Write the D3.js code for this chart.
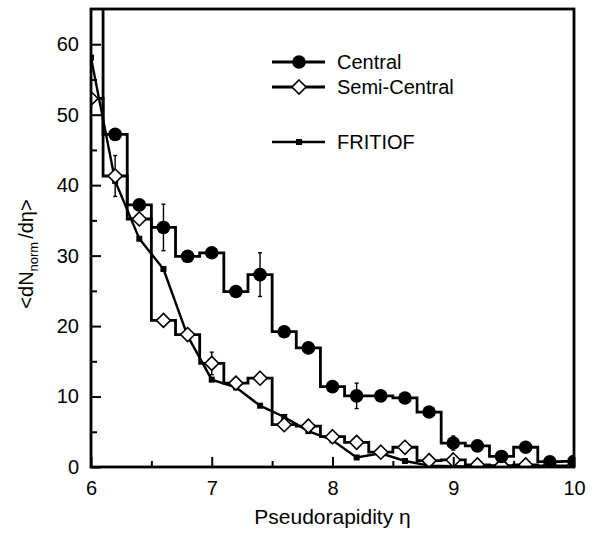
<!DOCTYPE html>
<html>
<head>
<meta charset="utf-8">
<script src="https://cdn.jsdelivr.net/npm/d3@7/dist/d3.min.js"></script>
<style>
  html, body { margin: 0; padding: 0; background: #fff; }
  svg { display: block; font-family: "Liberation Sans", Arial, Helvetica, sans-serif; }
</style>
</head>
<body>
<svg id="chart" width="602" height="533"></svg>
<script>
// ---- data ----
const eta = [6.0, 6.2, 6.4, 6.6, 6.8, 7.0, 7.2, 7.4, 7.6, 7.8, 8.0, 8.2, 8.4, 8.6, 8.8, 9.0, 9.2, 9.4, 9.6, 9.8, 10.0];
const central     = [75, 47.2, 37.2, 34.0, 29.9, 30.4, 24.9, 27.3, 19.2, 16.9, 11.4, 10.1, 10.1, 9.8, 7.8, 3.4, 3.0, 1.5, 2.8, 0.75, 0.8];
const centralErr  = [0, 0, 0, 3.3, 0, 0, 0, 3.1, 0, 0, 0, 1.8, 0, 0, 0, 1.0, 0, 0, 0, 0, 0];
const semiCentral = [52.3, 41.3, 35.2, 20.8, 18.8, 14.7, 11.9, 12.6, 6.0, 5.8, 4.3, 3.5, 2.1, 2.8, 0.9, 1.0, 0.3, 0.2, 0.3, 0.15, 0.15];
const semiErr     = [0, 2.9, 0, 0, 0, 1.6, 0, 0, 0, 0.8, 0, 0, 0, 0, 0, 0.6, 0, 0, 0, 0, 0];
const fritiof     = [58.1, 40.6, 32.4, 28.1, 18.6, 12.4, 11.3, 8.7, 7.1, 5.1, 3.8, 1.35, 1.95, 0.85, 0.2, 0.1, 0.05, 0.05, 0.05, 0.05, 0.05];
const xTicks = [6, 7, 8, 9, 10];
const xMinor = [6.5, 7.5, 8.5, 9.5];
const yTicks = [0, 10, 20, 30, 40, 50, 60];
const yMinor = [5, 15, 25, 35, 45, 55];
const legendItems = ["Central", "Semi-Central", "FRITIOF"];

// ---- layout ----
const W = 602, H = 533;
const m = {left: 91, right: 28, top: 9, bottom: 66};
const svg = d3.select("#chart");
const x = d3.scaleLinear().domain([6, 10]).range([m.left, W - m.right]);
const y = d3.scaleLinear().domain([0, 65]).range([H - m.bottom, m.top]);

svg.append("defs").append("clipPath").attr("id", "clip")
  .append("rect").attr("x", x(6)).attr("y", y(65))
  .attr("width", x(10) - x(6)).attr("height", y(0) - y(65));

const plot = svg.append("g").attr("clip-path", "url(#clip)");

const stepLine = d3.line().curve(d3.curveStep).x(d => x(d[0])).y(d => y(d[1]));
const straight = d3.line().x(d => x(d[0])).y(d => y(d[1]));

const cData = eta.map((e, i) => [e, central[i], centralErr[i]]);
const sData = eta.map((e, i) => [e, semiCentral[i], semiErr[i]]);
const fData = eta.map((e, i) => [e, fritiof[i]]);

// step histograms
plot.append("path").datum(sData).attr("d", stepLine)
  .attr("fill", "none").attr("stroke", "#000").attr("stroke-width", 2.8).attr("stroke-linejoin", "miter");
plot.append("path").datum(cData).attr("d", stepLine)
  .attr("fill", "none").attr("stroke", "#000").attr("stroke-width", 2.8).attr("stroke-linejoin", "miter");
// FRITIOF line
plot.append("path").datum(fData).attr("d", straight)
  .attr("fill", "none").attr("stroke", "#000").attr("stroke-width", 2.4);

// error bars
function errBars(data) {
  const g = plot.append("g").attr("stroke", "#000").attr("stroke-width", 1.4);
  data.filter(d => d[2] > 0).forEach(d => {
    g.append("line").attr("x1", x(d[0])).attr("x2", x(d[0]))
      .attr("y1", y(d[1] - d[2])).attr("y2", y(d[1] + d[2]));
    [d[1] - d[2], d[1] + d[2]].forEach(v => {
      g.append("line").attr("x1", x(d[0]) - 2).attr("x2", x(d[0]) + 2)
        .attr("y1", y(v)).attr("y2", y(v));
    });
  });
}
errBars(cData);
errBars(sData);

// markers
const diamond = r => `M0,${-r}L${r},0L0,${r}L${-r},0Z`;
plot.append("g").selectAll("rect").data(fData).join("rect")
  .attr("x", d => x(d[0]) - 3).attr("y", d => y(d[1]) - 3)
  .attr("width", 6).attr("height", 6).attr("fill", "#000");
plot.append("g").selectAll("path").data(sData).join("path")
  .attr("transform", d => `translate(${x(d[0])},${y(d[1])})`)
  .attr("d", diamond(7)).attr("fill", "#fff").attr("stroke", "#000").attr("stroke-width", 1.6);
plot.append("g").selectAll("circle").data(cData).join("circle")
  .attr("cx", d => x(d[0])).attr("cy", d => y(d[1])).attr("r", 6.8).attr("fill", "#000");

// axes
const xAxis = svg.append("g").attr("transform", `translate(0,${y(0)})`)
  .call(d3.axisBottom(x).tickValues(xTicks).tickFormat(d3.format("d")).tickSizeInner(-10).tickSizeOuter(0).tickPadding(14));
const xAxisMinor = svg.append("g").attr("transform", `translate(0,${y(0)})`)
  .call(d3.axisBottom(x).tickValues(xMinor).tickFormat("").tickSizeInner(-6).tickSizeOuter(0));
const yAxis = svg.append("g").attr("transform", `translate(${x(6)},0)`)
  .call(d3.axisLeft(y).tickValues(yTicks).tickFormat(d3.format("d")).tickSizeInner(-10).tickSizeOuter(0).tickPadding(12));
const yAxisMinor = svg.append("g").attr("transform", `translate(${x(6)},0)`)
  .call(d3.axisLeft(y).tickValues(yMinor).tickFormat("").tickSizeInner(-6).tickSizeOuter(0));
[xAxis, xAxisMinor, yAxis, yAxisMinor].forEach(g => {
  g.selectAll(".domain").remove();
  g.selectAll(".tick line").attr("stroke", "#000").attr("stroke-width", 2);
  g.selectAll("text").attr("font-size", 20).attr("fill", "#000")
    .attr("font-family", "'Liberation Sans', Arial, sans-serif");
});
// frame
svg.append("rect").attr("x", x(6)).attr("y", y(65))
  .attr("width", x(10) - x(6)).attr("height", y(0) - y(65))
  .attr("fill", "none").attr("stroke", "#000").attr("stroke-width", 2.8);

// axis titles
svg.append("text").attr("x", (x(6) + x(10)) / 2 + 0).attr("y", 524)
  .attr("text-anchor", "middle").attr("font-size", 21)
  .text("Pseudorapidity η");
const yt = svg.append("text").attr("transform", "translate(33,254) rotate(-90)")
  .attr("text-anchor", "middle").attr("font-size", 20);
yt.append("tspan").text("<dN");
yt.append("tspan").attr("font-size", 13).attr("dy", 5).text("norm");
yt.append("tspan").attr("dy", -5).attr("dx", 3).text("/dη>");

// legend
const legY = [62, 87, 142];
const lg = svg.append("g");
legendItems.forEach((name, i) => {
  const yy = legY[i];
  lg.append("line").attr("x1", 272).attr("x2", 325).attr("y1", yy).attr("y2", yy)
    .attr("stroke", "#000").attr("stroke-width", i === 2 ? 2.4 : 2.8);
  if (i === 0) lg.append("circle").attr("cx", 299).attr("cy", yy).attr("r", 6.8).attr("fill", "#000");
  if (i === 1) lg.append("path").attr("transform", `translate(299,${yy})`).attr("d", diamond(7))
    .attr("fill", "#fff").attr("stroke", "#000").attr("stroke-width", 1.6);
  if (i === 2) lg.append("rect").attr("x", 296).attr("y", yy - 3).attr("width", 6).attr("height", 6).attr("fill", "#000");
  lg.append("text").attr("x", 337).attr("y", yy).attr("dy", "0.35em")
    .attr("font-size", 20).text(name);
});
</script>
</body>
</html>
